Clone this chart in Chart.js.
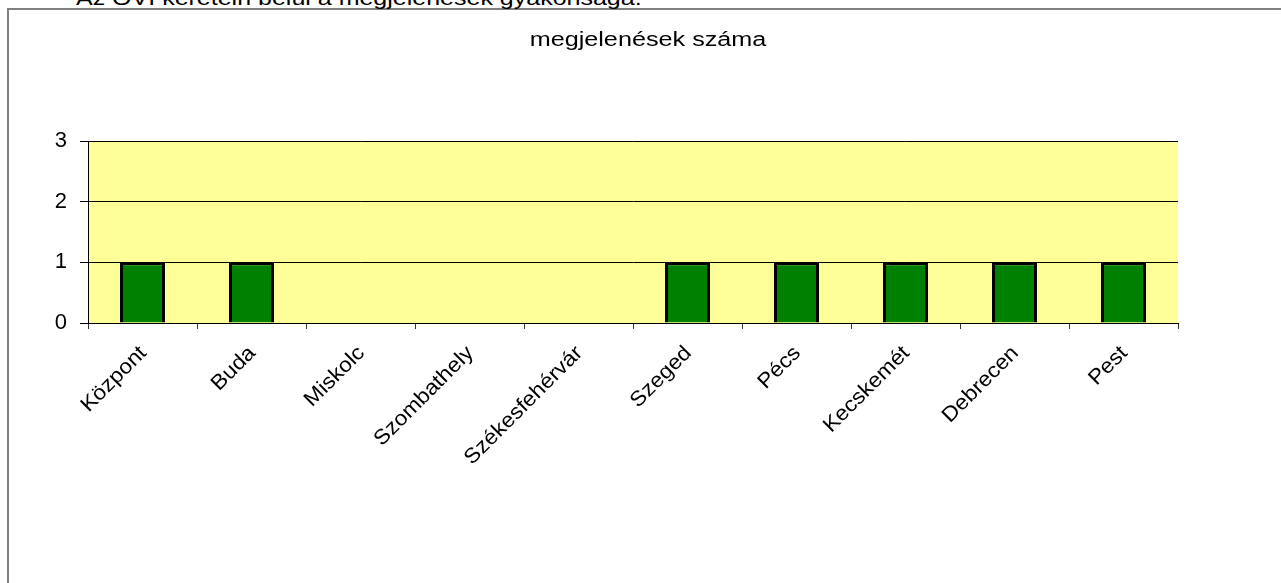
<!DOCTYPE html>
<html>
<head>
<meta charset="utf-8">
<script src="https://cdn.jsdelivr.net/npm/chart.js@4/dist/chart.umd.min.js"></script>
<style>
    html, body { margin: 0; padding: 0; background: #fff; overflow: hidden; width: 1281px; height: 583px; }
    #frame { position: absolute; left: 7px; top: 8px; width: 1300px; height: 600px;
             border-left: 2px solid #808080; border-top: 2px solid #808080; }
    /* the texts of the original are drawn wide, so they are stretched here too */
    #heading { position: absolute; left: 76px; top: -12px; white-space: nowrap;
               font: 20px/20px "Liberation Sans", Arial, sans-serif; color: #000;
               transform: scaleX(1.25); transform-origin: 0 0; }
    #title { position: absolute; left: 448px; top: 27px; width: 400px; text-align: center;
             font: 20px/24px "Liberation Sans", Arial, sans-serif; color: #000;
             transform: scaleX(1.26); }
    canvas { position: absolute; left: 0; top: 0; }
</style>
</head>
<body>
<div id="frame"></div>
<div id="heading">Az OVI keretein belül a megjelenések gyakorisága.</div>
<canvas id="graph" width="1281" height="583"></canvas>
<div id="title">megjelenések száma</div>
<script>
var categories = ['Központ', 'Buda', 'Miskolc', 'Szombathely', 'Székesfehérvár', 'Szeged', 'Pécs', 'Kecskemét', 'Debrecen', 'Pest'];
var values = [1, 1, 0, 0, 0, 1, 1, 1, 1, 1];
var y_min = 0;
var y_max = 3;
var y_step = 1;

var font = '"Liberation Sans", Arial, sans-serif';

/*yellow plot area like the excel chart*/
var plot_bg = {
    id: 'plot_bg',
    beforeDraw: function (chart) {
        var a = chart.chartArea;
        var ctx = chart.ctx;
        ctx.save();
        ctx.fillStyle = '#FFFF99';
        ctx.fillRect(a.left, a.top, a.right - a.left, a.bottom - a.top);
        ctx.restore();
    }
};

/*category labels at 45 degrees, wide letters like the original*/
var wide_labels = {
    id: 'wide_labels',
    afterDraw: function (chart) {
        var scale = chart.scales.x;
        var ctx = chart.ctx;
        ctx.save();
        ctx.fillStyle = '#000';
        ctx.font = '21px ' + font;
        ctx.textAlign = 'right';
        ctx.textBaseline = 'alphabetic';
        scale.ticks.forEach(function (tick, i) {
            ctx.save();
            ctx.translate(scale.getPixelForTick(i) + 5, scale.top + 31);
            ctx.rotate(-Math.PI / 4);
            ctx.scale(1.08, 1);
            ctx.fillText(categories[i], 0, 0);
            ctx.restore();
        });
        ctx.restore();
    }
};

new Chart(document.getElementById('graph'), {
    type: 'bar',
    data: {
        labels: categories,
        datasets: [{
            data: values,
            backgroundColor: '#008000',
            borderColor: '#000000',
            borderWidth: 3,
            barPercentage: 0.413,
            categoryPercentage: 1
        }]
    },
    options: {
        responsive: false,
        devicePixelRatio: 1,
        animation: false,
        layout: { padding: { top: 141, right: 103, left: 0, bottom: 0 } },
        plugins: {
            legend: { display: false },
            title: { display: false },
            tooltip: { enabled: false }
        },
        scales: {
            x: {
                offset: true,
                grid: { offset: true, drawOnChartArea: false, drawTicks: true, tickLength: 6, color: '#333' },
                border: { color: '#000', width: 1 },
                ticks: { display: false },
                afterFit: function (scale) { scale.height = 260; }
            },
            y: {
                min: y_min,
                max: y_max,
                grid: { color: '#000', tickLength: 8 },
                border: { color: '#000', width: 1 },
                ticks: { stepSize: y_step, padding: 13, color: '#000', font: { family: font, size: 22 } },
                afterFit: function (scale) { scale.width = 88; }
            }
        }
    },
    plugins: [plot_bg, wide_labels]
});
</script>
</body>
</html>
